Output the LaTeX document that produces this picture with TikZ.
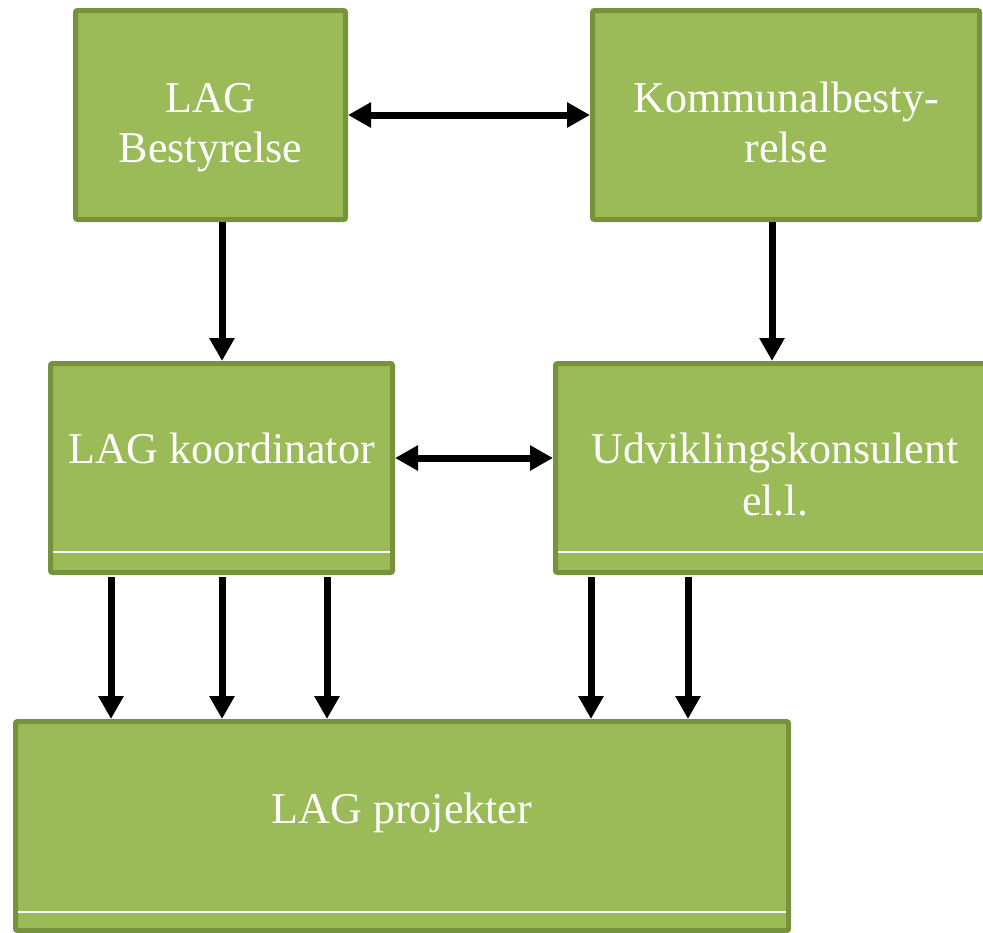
\documentclass[tikz,border=0pt]{standalone}
\usepackage{fontspec}
\setmainfont{Liberation Serif}
\usetikzlibrary{arrows.meta}
\definecolor{boxfill}{HTML}{9BBB59}
\definecolor{boxedge}{HTML}{76923C}
\tikzset{
  box/.style={draw=boxedge, fill=boxfill, line width=2.5pt, rounded corners=1pt,
    inner sep=0pt, minimum height=104.5pt},
  lbl/.style={text=white, anchor=base, inner sep=0pt, font=\fontsize{22}{25}\selectfont},
  arr/.style={line width=3.5pt, -{Triangle[width=12pt,length=11.5pt]}},
  darr/.style={line width=3.5pt, {Triangle[width=12pt,length=11.5pt]}-{Triangle[width=12pt,length=11.5pt]}},
  sepline/.style={draw=white, line width=0.7pt}
}
\begin{document}
\begin{tikzpicture}[x=0.5pt, y=-0.5pt]
\useasboundingbox (0,0) rectangle (983,932);
% boxes
\node[box, minimum width=135pt]   (b)  at (210.5,115) {};
\node[box, minimum width=193.5pt] (kb) at (786,115) {};
\node[box, minimum width=171pt]   (ko) at (221.5,468) {};
\node[box, minimum width=219.5pt] (u)  at (775,468) {};
\node[box, minimum width=386.5pt] (p)  at (402,826) {};
% separator lines
\draw[sepline] (53,552) -- (390,552);
\draw[sepline] (558,552) -- (992,552);
\draw[sepline] (18,912) -- (786,912);
% labels
\node[lbl] (t1) at (210.5,112) {LAG};
\node[lbl] (t2) at (210.5,162) {Bestyrelse};
\node[lbl] (t3) at (786,112) {Kommunalbesty-};
\node[lbl] (t4) at (786,162) {relse};
\node[lbl] (t5) at (221.5,463) {LAG koordinator};
\node[lbl] (t6) at (775,463) {Udviklingskonsulent};
\node[lbl] (t7) at (775,515) {el.l.};
\node[lbl] (t8) at (402,823) {LAG projekter};
% column / row coordinates
\coordinate (c1) at (222,0);
\coordinate (c2) at (772,0);
\coordinate (c3) at (111,0);
\coordinate (c4) at (222,0);
\coordinate (c5) at (327,0);
\coordinate (c6) at (591,0);
\coordinate (c7) at (688,0);
\coordinate (r1) at (0,458);
% connectors
\draw[darr] (b.east) -- (kb.west);
\draw[arr] (b.south -| c1) -- (ko.north -| c1);
\draw[arr] (kb.south -| c2) -- (u.north -| c2);
\draw[darr] (ko.east |- r1) -- (u.west |- r1);
\draw[arr, shorten <=1pt] (ko.south -| c3) -- (p.north -| c3);
\draw[arr, shorten <=1pt] (ko.south -| c4) -- (p.north -| c4);
\draw[arr, shorten <=1pt] (ko.south -| c5) -- (p.north -| c5);
\draw[arr, shorten <=1pt] (u.south -| c6) -- (p.north -| c6);
\draw[arr, shorten <=1pt] (u.south -| c7) -- (p.north -| c7);
\end{tikzpicture}
\end{document}
